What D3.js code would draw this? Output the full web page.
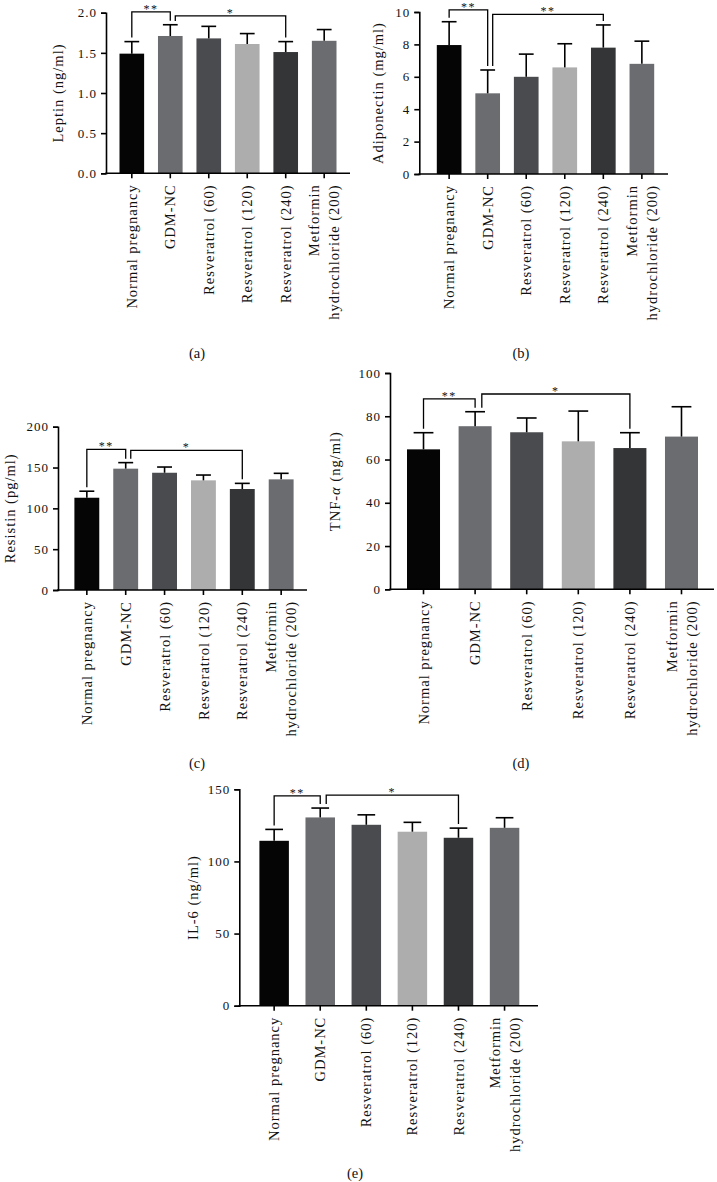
<!DOCTYPE html>
<html><head><meta charset="utf-8">
<script src="https://cdn.jsdelivr.net/npm/d3@7"></script>
<style>
body{margin:0;background:#fff;}
svg{display:block;font-family:"Liberation Serif","Times New Roman",serif;}
</style></head><body>
<svg id="chart" width="717" height="1182"></svg>
<script>
// ---------- data ----------
const categories = ["Normal pregnancy","GDM-NC","Resveratrol (60)","Resveratrol (120)","Resveratrol (240)","Metformin hydrochloride (200)"];
const categoryLines = [["Normal pregnancy"],["GDM-NC"],["Resveratrol (60)"],["Resveratrol (120)"],["Resveratrol (240)"],["Metformin","hydrochloride (200)"]];

const leptinMean = [1.49, 1.71, 1.68, 1.61, 1.51, 1.65];
const leptinSD   = [0.15, 0.14, 0.15, 0.13, 0.13, 0.14];
const leptinTicks = [0, 0.5, 1.0, 1.5, 2.0];
const leptinSig = [{from:0, to:1, label:"**", level:2.01}, {from:1, to:4, label:"*", level:1.96}];

const adipoMean = [7.96, 4.98, 6.0, 6.58, 7.8, 6.8];
const adipoSD   = [1.44, 1.44, 1.4, 1.46, 1.4, 1.4];
const adipoTicks = [0, 2, 4, 6, 8, 10];
const adipoSig = [{from:0, to:1, label:"**", level:10.13}, {from:1, to:4, label:"**", level:9.85}];

const resistinMean = [113, 148.6, 143.6, 134.3, 123.7, 135.5];
const resistinSD   = [8, 7.4, 7, 6.5, 6.9, 7.4];
const resistinTicks = [0, 50, 100, 150, 200];
const resistinSig = [{from:0, to:1, label:"**", level:172.3}, {from:1, to:4, label:"*", level:171}];

const tnfMean = [64.7, 75.4, 72.6, 68.4, 65.3, 70.6];
const tnfSD   = [7.7, 6.7, 6.6, 14, 7.1, 13.8];
const tnfTicks = [0, 20, 40, 60, 80, 100];
const tnfSig = [{from:0, to:1, label:"**", level:88}, {from:1, to:4, label:"*", level:90.3}];

const il6Mean = [114.3, 130.5, 125.4, 120.6, 116.4, 123.3];
const il6SD   = [7.9, 6.5, 6.9, 6.5, 6.7, 7.0];
const il6Ticks = [0, 50, 100, 150];
const il6Sig = [{from:0, to:1, label:"**", level:145.5}, {from:1, to:4, label:"*", level:146}];

// ---------- styles ----------
const barColors = ["#050505", "#6b6c70", "#4a4b4e", "#adadad", "#343537", "#6b6c70"];

// ---------- layout ----------
const panels = [
  {mean:leptinMean, sd:leptinSD, ticks:leptinTicks, sig:leptinSig, fmt:d3.format(".1f"),
   title:["Leptin (ng/ml)"], x0:106, x1:350, yTop:12.7, yBot:173.3, band:[119.5,336.5], titleX:57.5,
   caption:"(a)", capX:197, capY:353},
  {mean:adipoMean, sd:adipoSD, ticks:adipoTicks, sig:adipoSig, fmt:d3.format("d"),
   title:["Adiponectin (mg/ml)"], x0:419.3, x1:668, yTop:12, yBot:174, band:[436.8,654.2], titleX:378,
   caption:"(b)", capX:521, capY:353},
  {mean:resistinMean, sd:resistinSD, ticks:resistinTicks, sig:resistinSig, fmt:d3.format("d"),
   title:["Resistin (pg/ml)"], x0:58, x1:307, yTop:426.7, yBot:590, band:[74.4,293.6], titleX:10,
   caption:"(c)", capX:197, capY:763},
  {mean:tnfMean, sd:tnfSD, ticks:tnfTicks, sig:tnfSig, fmt:d3.format("d"),
   title:["TNF-", "α", " (ng/ml)"], x0:390, x1:714, yTop:373, yBot:589.3, band:[407,698], titleX:335,
   caption:"(d)", capX:521, capY:763},
  {mean:il6Mean, sd:il6SD, ticks:il6Ticks, sig:il6Sig, fmt:d3.format("d"),
   title:["IL-6 (ng/ml)"], x0:239.3, x1:538, yTop:789.3, yBot:1005.7, band:[259.4,519.3], titleX:193,
   caption:"(e)", capX:355, capY:1173}
];

const svg = d3.select("#chart");

function drawPanel(p) {
  const g = svg.append("g");
  const x = d3.scaleBand().domain(categories).range(p.band).paddingInner(0.36).paddingOuter(0);
  const y = d3.scaleLinear().domain([0, d3.max(p.ticks)]).range([p.yBot, p.yTop]);
  const bw = x.bandwidth();
  const cx = i => x(categories[i]) + bw / 2;

  // bars
  g.selectAll("rect.bar").data(p.mean).join("rect")
    .attr("class", "bar")
    .attr("x", (d, i) => x(categories[i]))
    .attr("y", d => y(d))
    .attr("width", bw)
    .attr("height", d => y(0) - y(d))
    .attr("fill", (d, i) => barColors[i]);

  // error bars (upper only)
  const capW = bw * 0.6;
  p.mean.forEach((m, i) => {
    const top = y(m + p.sd[i]);
    g.append("line").attr("x1", cx(i)).attr("x2", cx(i)).attr("y1", y(m)).attr("y2", top)
      .attr("stroke", "#000").attr("stroke-width", 1.6);
    g.append("line").attr("x1", cx(i) - capW / 2).attr("x2", cx(i) + capW / 2).attr("y1", top).attr("y2", top)
      .attr("stroke", "#000").attr("stroke-width", 1.6);
  });

  // y axis
  const ya = g.append("g").attr("transform", `translate(${p.x0},0)`)
    .call(d3.axisLeft(y).tickValues(p.ticks).tickFormat(p.fmt).tickSizeOuter(0).tickSize(5).tickPadding(4));
  ya.select(".domain").attr("stroke-width", 1.6);
  ya.selectAll(".tick line").attr("stroke-width", 1.6);
  ya.selectAll(".tick text").attr("font-family", "Liberation Serif, Times New Roman, serif")
    .attr("font-size", 13).attr("letter-spacing", "1px").attr("fill", "#111");

  // x axis
  g.append("line").attr("x1", p.x0 - 0.8).attr("x2", p.x1).attr("y1", p.yBot).attr("y2", p.yBot)
    .attr("stroke", "#000").attr("stroke-width", 1.6);
  const xa = g.append("g").attr("transform", `translate(0,${p.yBot})`)
    .call(d3.axisBottom(x).tickSize(5).tickFormat(""));
  xa.select(".domain").remove();
  xa.selectAll(".tick line").attr("stroke-width", 1.6);

  // category labels
  categories.forEach((c, i) => {
    const lines = categoryLines[i];
    lines.forEach((ln, k) => {
      const off = (k - (lines.length - 1) / 2) * 20;
      g.append("text")
        .attr("transform", `translate(${cx(i) + off},${p.yBot + 11}) rotate(-90)`)
        .attr("text-anchor", "end").attr("dy", "0.35em")
        .attr("font-size", 14.5).attr("letter-spacing", "1px").attr("fill", "#111")
        .text(ln);
    });
  });

  // y title
  const t = g.append("text")
    .attr("transform", `translate(${p.titleX},${(p.yTop + p.yBot) / 2}) rotate(-90)`)
    .attr("text-anchor", "middle").attr("dy", "0.35em")
    .attr("font-size", 14.5).attr("letter-spacing", "1px").attr("fill", "#111");
  p.title.forEach(s => {
    const ts = t.append("tspan").text(s);
    if (s === "α") ts.attr("font-style", "italic");
  });

  // significance brackets
  const step = x.step();
  p.sig.forEach((s, k) => {
    const xa1 = cx(s.from) + (k > 0 ? step * 0.13 : 0);
    const xa2 = cx(s.to);
    const yb = y(s.level);
    const gap = 4;
    const leftEnd = Math.max(yb + 5, y(p.mean[s.from] + p.sd[s.from]) - gap);
    const rightEnd = Math.max(yb + 5, y(p.mean[s.to] + p.sd[s.to]) - gap);
    g.append("path")
      .attr("d", `M${xa1},${leftEnd}V${yb}H${xa2}V${rightEnd}`)
      .attr("fill", "none").attr("stroke", "#000").attr("stroke-width", 1.3);
    g.append("text").attr("x", (xa1 + xa2) / 2).attr("y", yb + 1)
      .attr("text-anchor", "middle").attr("font-size", 12).attr("letter-spacing", "1.5px")
      .attr("fill", "#111").text(s.label);
  });

  // caption
  svg.append("text").attr("x", p.capX).attr("y", p.capY).attr("dy", "0.35em")
    .attr("text-anchor", "middle").attr("font-size", 14.5).attr("fill", "#111").text(p.caption);
}

panels.forEach(drawPanel);
</script>
</body></html>
